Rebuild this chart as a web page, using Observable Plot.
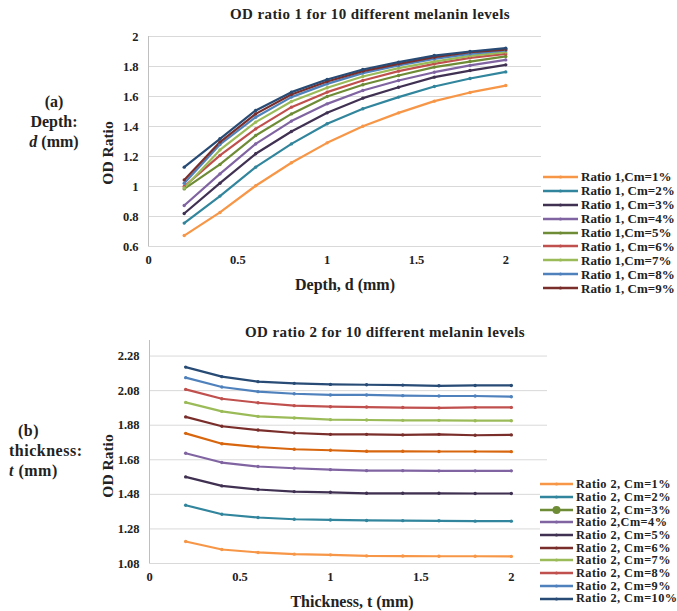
<!DOCTYPE html>
<html>
<head>
<meta charset="utf-8">
<script src="https://cdn.jsdelivr.net/npm/d3@7"></script>
<script src="https://cdn.jsdelivr.net/npm/@observablehq/plot@0.6"></script>
<style>
  html, body { margin: 0; padding: 0; background: #fff; }
  #wrap { position: relative; width: 677px; height: 611px; background: #fff; overflow: hidden;
          font-family: "Liberation Serif", "Times New Roman", Times, "DejaVu Serif", serif; font-weight: bold; color: #222; }
  .abs { position: absolute; white-space: nowrap; line-height: 1; }
  .title { font-size: 15px; letter-spacing: 0.4px; transform: translate(-50%, -50%); }
  .xlab { font-size: 16px; transform: translate(-50%, -50%); }
  .ylab { font-size: 15.5px; transform: translate(-50%, -50%) rotate(-90deg); }
  .side { font-size: 16px; line-height: 20px; }
  .legend { position: absolute; background: #fff; }
  .legend .row { display: flex; align-items: center; white-space: nowrap; overflow: visible; }
  .legend span { line-height: 1; display: block; }
  .legend svg { display: block; margin-right: 3px; }
  .plotbox { position: absolute; left: 0; }
</style>
</head>
<body>
<div id="wrap"></div>
<script>
// ---------------- data ----------------
const depthX = [0.2, 0.4, 0.6, 0.8, 1.0, 1.2, 1.4, 1.6, 1.8, 2.0];
const thickX = [0.2, 0.4, 0.6, 0.8, 1.0, 1.2, 1.4, 1.6, 1.8, 2.0];

const ratio1Names = ["Cm=1%", "Cm=2%", "Cm=3%", "Cm=4%", "Cm=5%", "Cm=6%", "Cm=7%", "Cm=8%", "Cm=9%", "Cm=10%"];
const r1_cm1  = [0.673, 0.827, 1.005, 1.158, 1.291, 1.402, 1.491, 1.569, 1.627, 1.673];
const r1_cm2  = [0.756, 0.936, 1.129, 1.284, 1.418, 1.518, 1.596, 1.667, 1.720, 1.764];
const r1_cm3  = [0.820, 1.022, 1.218, 1.367, 1.491, 1.589, 1.662, 1.729, 1.773, 1.811];
const r1_cm4  = [0.873, 1.084, 1.284, 1.436, 1.551, 1.640, 1.707, 1.762, 1.807, 1.844];
const r1_cm5  = [0.984, 1.147, 1.340, 1.484, 1.600, 1.678, 1.740, 1.796, 1.833, 1.867];
const r1_cm6  = [1.000, 1.207, 1.384, 1.529, 1.629, 1.707, 1.769, 1.818, 1.858, 1.884];
const r1_cm7  = [0.990, 1.244, 1.429, 1.567, 1.658, 1.733, 1.789, 1.833, 1.871, 1.896];
const r1_cm8  = [1.022, 1.280, 1.462, 1.596, 1.684, 1.756, 1.807, 1.851, 1.884, 1.907];
const r1_cm9  = [1.044, 1.296, 1.484, 1.613, 1.700, 1.769, 1.818, 1.862, 1.896, 1.913];
const r1_cm10 = [1.129, 1.318, 1.507, 1.629, 1.713, 1.780, 1.829, 1.873, 1.900, 1.922];
const ratio1Series = [r1_cm1, r1_cm2, r1_cm3, r1_cm4, r1_cm5, r1_cm6, r1_cm7, r1_cm8, r1_cm9, r1_cm10];

const ratio2Names = ["Cm=1%", "Cm=2%", "Cm=3%", "Cm=4%", "Cm=5%", "Cm=6%", "Cm=7%", "Cm=8%", "Cm=9%", "Cm=10%"];
const r2_cm1  = [1.207, 1.161, 1.144, 1.134, 1.130, 1.124, 1.123, 1.122, 1.122, 1.121];
const r2_cm2  = [1.417, 1.365, 1.346, 1.336, 1.332, 1.329, 1.328, 1.327, 1.325, 1.325];
const r2_cm3  = [1.581, 1.529, 1.508, 1.496, 1.492, 1.486, 1.486, 1.486, 1.485, 1.485];
const r2_cm4  = [1.718, 1.664, 1.641, 1.631, 1.623, 1.617, 1.617, 1.616, 1.616, 1.616];
const r2_cm5  = [1.833, 1.773, 1.754, 1.741, 1.735, 1.729, 1.729, 1.728, 1.728, 1.727];
const r2_cm6  = [1.928, 1.874, 1.852, 1.835, 1.827, 1.827, 1.824, 1.827, 1.822, 1.824];
const r2_cm7  = [2.012, 1.960, 1.931, 1.922, 1.912, 1.910, 1.908, 1.908, 1.906, 1.906];
const r2_cm8  = [2.087, 2.033, 2.010, 1.993, 1.987, 1.985, 1.982, 1.980, 1.983, 1.983];
const r2_cm9  = [2.155, 2.101, 2.074, 2.062, 2.055, 2.055, 2.051, 2.049, 2.049, 2.045];
const r2_cm10 = [2.216, 2.161, 2.132, 2.122, 2.116, 2.114, 2.112, 2.108, 2.110, 2.110];
const ratio2Series = [r2_cm1, r2_cm2, r2_cm3, r2_cm4, r2_cm5, r2_cm6, r2_cm7, r2_cm8, r2_cm9, r2_cm10];

const ticksX = [0, 0.5, 1, 1.5, 2];
const ticksY1 = [0.6, 0.8, 1.0, 1.2, 1.4, 1.6, 1.8, 2.0];
const ticksY2 = [1.08, 1.28, 1.48, 1.68, 1.88, 2.08, 2.28];

const legend1Labels = ["Ratio 1,Cm=1%", "Ratio 1, Cm=2%", "Ratio 1, Cm=3%", "Ratio 1, Cm=4%", "Ratio 1,Cm=5%",
                       "Ratio 1, Cm=6%", "Ratio 1,Cm=7%", "Ratio 1, Cm=8%", "Ratio 1, Cm=9%"];
const legend2Labels = ["Ratio 2, Cm=1%", "Ratio 2, Cm=2%", "Ratio 2, Cm=3%", "Ratio 2,Cm=4%", "Ratio 2, Cm=5%",
                       "Ratio 2, Cm=6%", "Ratio 2, Cm=7%", "Ratio 2, Cm=8%", "Ratio 2, Cm=9%", "Ratio 2, Cm=10%"];

// ---------------- styles ----------------
const colors1 = ["#F79646", "#31859C", "#403152", "#8064A2", "#6E8B35", "#C0504D", "#9BBB59", "#4F81BD", "#7A2E2B", "#274B75"];
const colors2 = ["#F79646", "#31859C", "#403152", "#8064A2", "#D8660E", "#7A2E2B", "#9BBB59", "#C0504D", "#4F81BD", "#274B75"];
const legend1Colors = colors1.slice(0, 9);
const legend2Colors = ["#F79646", "#31859C", "#6E8B35", "#8064A2", "#403152", "#7A2E2B", "#9BBB59", "#C0504D", "#4F81BD", "#274B75"];

function tidy(xs, names, series) {
  const out = [];
  series.forEach((vals, i) => vals.forEach((v, j) => out.push({x: xs[j], y: v, s: names[i]})));
  return out;
}
const fmt1 = d => String(+(+d).toFixed(2));
const fmt2 = d => (+d).toFixed(2);

function makePlot({data, names, colors, yDomain, yTicks, yFmt, height, marginTop, marginBottom, marginLeft, marginRight}) {
  return Plot.plot({
    width: 677, height, marginTop, marginBottom, marginLeft, marginRight,
    style: {fontFamily: '"Liberation Serif", "Times New Roman", Times, serif', fontWeight: "bold", fontSize: "12.5px", color: "#222", background: "transparent"},
    x: {domain: [0, 2.2], ticks: ticksX, tickFormat: fmt1, tickSize: 0, tickPadding: 9, label: null},
    y: {domain: yDomain, ticks: yTicks, tickFormat: yFmt, tickSize: 0, tickPadding: 10, label: null},
    color: {domain: names, range: colors},
    marks: [
      Plot.ruleY(yTicks, {stroke: "#d9d9d9", strokeWidth: 1}),
      Plot.ruleX([0], {stroke: "#bfbfbf", strokeWidth: 1}),
      Plot.line(data, {x: "x", y: "y", z: "s", stroke: "s", strokeWidth: 2.2, curve: "linear"}),
      Plot.dot(data, {x: "x", y: "y", fill: "s", r: 1.7})
    ]
  });
}

const wrap = document.getElementById("wrap");
function add(html, cls, left, top) {
  const d = document.createElement("div");
  d.className = "abs " + cls;
  d.style.left = left + "px";
  d.style.top = top + "px";
  d.innerHTML = html;
  wrap.appendChild(d);
  return d;
}

// ---------- top chart ----------
const p1 = makePlot({
  data: tidy(depthX, ratio1Names, ratio1Series), names: ratio1Names, colors: colors1,
  yDomain: [0.6, 2.0], yTicks: ticksY1, yFmt: fmt1,
  height: 296, marginTop: 36, marginBottom: 50, marginLeft: 148, marginRight: 136
});
const box1 = document.createElement("div");
box1.className = "plotbox"; box1.style.top = "0px";
box1.appendChild(p1); wrap.appendChild(box1);

// ---------- bottom chart ----------
const p2 = makePlot({
  data: tidy(thickX, ratio2Names, ratio2Series), names: ratio2Names, colors: colors2,
  yDomain: [1.08, 2.37], yTicks: ticksY2, yFmt: fmt2,
  height: 311, marginTop: 40, marginBottom: 48, marginLeft: 149, marginRight: 130
});
const box2 = document.createElement("div");
box2.className = "plotbox"; box2.style.top = "300px";
box2.appendChild(p2); wrap.appendChild(box2);

// ---------- texts ----------
add("OD ratio 1 for 10 different melanin levels", "title", 370, 14);
add("OD ratio 2 for 10 different melanin levels", "title", 385, 332);
add("Depth, d (mm)", "xlab", 345, 285);
add("Thickness, t (mm)", "xlab", 352, 602);
add("OD Ratio", "ylab", 108, 153);
add("OD Ratio", "ylab", 108, 466);
const sa = add("(a)<br>Depth:<br><i>d</i> (mm)", "side", 54, 92);
sa.style.textAlign = "center"; sa.style.transform = "translateX(-50%)";
const sb = add("&nbsp;&nbsp;(b)<br>thickness:<br><i>t</i> (mm)", "side", 9, 421);
sb.style.letterSpacing = "0.5px";

// ---------- legends ----------
function legend(labels, cols, left, top, rowH, swW, bigIndex, fontSize, spacing) {
  const L = document.createElement("div");
  L.className = "legend";
  L.style.left = left + "px"; L.style.top = top + "px";
  L.style.fontSize = fontSize + "px"; L.style.letterSpacing = spacing + "px";
  labels.forEach((lab, i) => {
    const row = document.createElement("div");
    row.className = "row"; row.style.height = rowH + "px";
    const ns = "http://www.w3.org/2000/svg";
    const s = document.createElementNS(ns, "svg");
    s.setAttribute("width", swW); s.setAttribute("height", 10);
    const ln = document.createElementNS(ns, "line");
    ln.setAttribute("x1", 0); ln.setAttribute("x2", swW); ln.setAttribute("y1", 5); ln.setAttribute("y2", 5);
    ln.setAttribute("stroke", cols[i]); ln.setAttribute("stroke-width", 2.6);
    s.appendChild(ln);
    const c = document.createElementNS(ns, "circle");
    c.setAttribute("cx", swW / 2); c.setAttribute("cy", 5); c.setAttribute("r", i === bigIndex ? 4 : 1.6);
    c.setAttribute("fill", cols[i]);
    s.appendChild(c);
    row.appendChild(s);
    const t = document.createElement("span"); t.textContent = lab;
    row.appendChild(t);
    L.appendChild(row);
  });
  wrap.appendChild(L);
}
legend(legend1Labels, legend1Colors, 543, 170, 13.9, 35, -1, 13, 0);
legend(legend2Labels, legend2Colors, 540, 478, 12.7, 33, 2, 12.3, 0.45);
</script>
</body>
</html>
